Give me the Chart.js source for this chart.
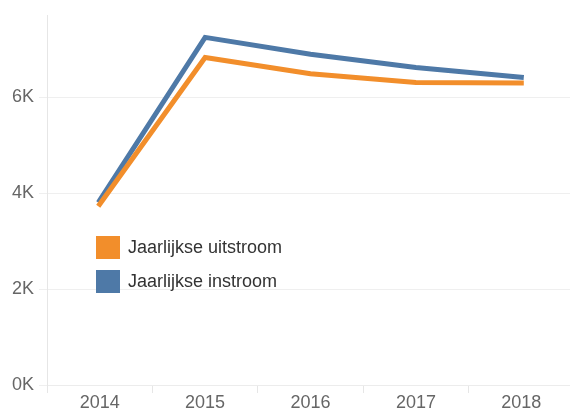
<!DOCTYPE html>
<html>
<head>
<meta charset="utf-8">
<script src="https://cdn.jsdelivr.net/npm/chart.js@4.4.1/dist/chart.umd.min.js"></script>
<style>
    html, body { margin: 0; padding: 0; background: #fff; }
    .wrap { position: relative; width: 570px; height: 412px; overflow: hidden; }
    .legend { position: absolute; left: 96px; top: 236px; font-family: "Liberation Sans", Arial, sans-serif; font-size: 18px; color: #333; }
    .legend .item { display: flex; align-items: center; height: 23px; margin-bottom: 11px; }
    .legend .swatch { width: 24px; height: 23px; margin-right: 8px; }
</style>
</head>
<body>
<div class="wrap">
    <canvas id="flow" width="570" height="412"></canvas>
    <div class="legend" id="legend"></div>
</div>
<script>
    var years = ['2014', '2015', '2016', '2017', '2018'];
    var uitstroom = [3770, 6830, 6490, 6310, 6300];
    var instroom = [3850, 7250, 6900, 6620, 6420];
    var yTicks = [0, 2000, 4000, 6000];

    var seriesNames = ['Jaarlijkse uitstroom', 'Jaarlijkse instroom'];
    var seriesColors = ['#f28e2b', '#4e79a7'];

    /** Legend inside the plot area */
    var legend = document.getElementById('legend');
    seriesNames.forEach(function(name, i){
        var item = document.createElement('div');
        item.className = 'item';
        item.innerHTML = '<span class="swatch" style="background:' + seriesColors[i] + '"></span>' + name;
        legend.appendChild(item);
    });

    /** Let the last year band run a few pixels past the canvas edge */
    var widenX = {
        id: 'widenX',
        afterLayout: function(chart){
            var x = chart.scales.x;
            x.right += 4;
            x.width += 4;
            x.configure();
        }
    };

    var tickFont = { family: 'Liberation Sans', size: 18 };

    var ctx = document.getElementById('flow').getContext('2d');
    var flowChart = new Chart(ctx, {
        type: 'line',
        data: {
            labels: years,
            datasets: [{
                label: seriesNames[0],
                data: uitstroom,
                borderColor: seriesColors[0],
                borderWidth: 5,
                borderCapStyle: 'square',
                pointRadius: 0,
                tension: 0
            }, {
                label: seriesNames[1],
                data: instroom,
                borderColor: seriesColors[1],
                borderWidth: 5,
                borderCapStyle: 'square',
                pointRadius: 0,
                tension: 0
            }]
        },
        plugins: [widenX],
        options: {
            responsive: false,
            animation: false,
            layout: { padding: { top: 15, right: 0, left: 0, bottom: 0 } },
            plugins: {
                legend: { display: false },
                tooltip: { enabled: false }
            },
            scales: {
                x: {
                    offset: true,
                    grid: {
                        offset: true,
                        drawOnChartArea: false,
                        tickLength: 8,
                        color: '#e6e6e6'
                    },
                    border: { color: '#ececec' },
                    ticks: {
                        color: '#666',
                        padding: -1,
                        font: tickFont
                    },
                    afterFit: function(scale){ scale.height = 27; }
                },
                y: {
                    min: 0,
                    max: 7700,
                    grid: {
                        color: '#efefef',
                        tickLength: 8
                    },
                    border: { color: '#e6e6e6' },
                    ticks: {
                        color: '#666',
                        padding: 5,
                        font: tickFont,
                        callback: function(v){ return (v / 1000) + 'K'; }
                    },
                    afterBuildTicks: function(scale){
                        scale.ticks = yTicks.map(function(v){ return { value: v }; });
                    },
                    afterFit: function(scale){ scale.width = 47; }
                }
            }
        }
    });
</script>
</body>
</html>
